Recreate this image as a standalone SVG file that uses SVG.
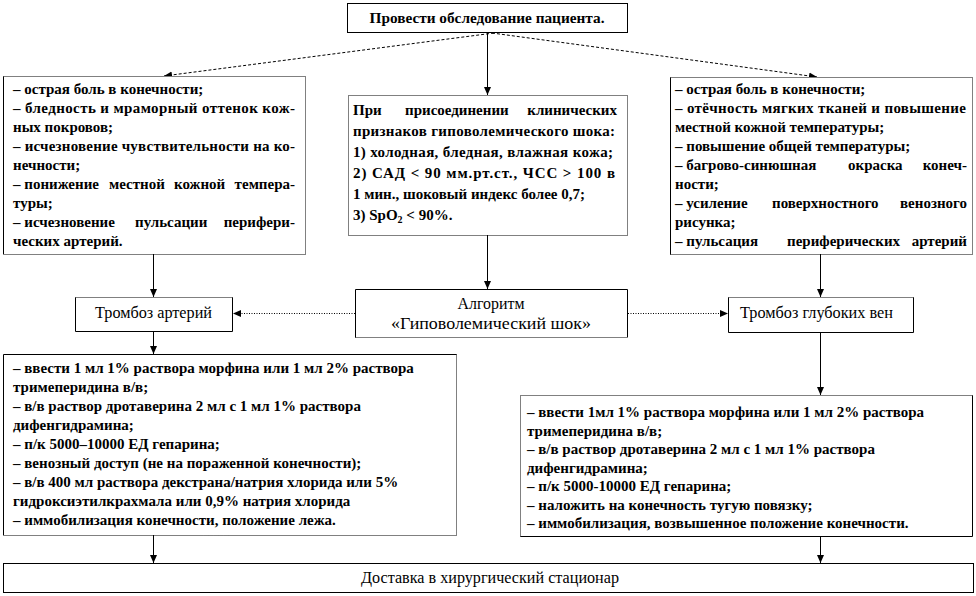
<svg xmlns="http://www.w3.org/2000/svg" width="976" height="596" viewBox="0 0 976 596">
<style>
.t{font-family:"Liberation Serif","Times New Roman",serif;font-size:15px;font-weight:bold;fill:#000}
.r{font-family:"Liberation Serif","Times New Roman",serif;font-size:16px;font-weight:normal;fill:#000}
.bg{fill:#fff;stroke:none}
.s{fill:none;stroke:#000;stroke-width:1}
.d{fill:none;stroke:#000;stroke-width:1;stroke-dasharray:1 1}
.c{fill:none;stroke:#000;stroke-width:1}
.dash{stroke-dasharray:3 2}
.dots{stroke-dasharray:1 1.5}
</style>
<defs>
<marker id="ah" markerUnits="userSpaceOnUse" markerWidth="9" markerHeight="8" refX="8" refY="4" orient="auto">
<path d="M0,0.5 L8,4 L0,7.5 z" fill="#000"/>
</marker>
</defs>
<rect width="976" height="596" fill="#fff"/>

<g id="connectors">
<line class="c dash" x1="494" y1="33" x2="164" y2="76" marker-end="url(#ah)"/>
<line class="c dash" x1="492" y1="33" x2="817" y2="77" marker-end="url(#ah)"/>
<line class="c" x1="487.5" y1="32" x2="487.5" y2="95" marker-end="url(#ah)"/>
<line class="c" x1="153.5" y1="254" x2="153.5" y2="297" marker-end="url(#ah)"/>
<line class="c" x1="487.5" y1="235" x2="487.5" y2="289" marker-end="url(#ah)"/>
<line class="c" x1="820.5" y1="254" x2="820.5" y2="297" marker-end="url(#ah)"/>
<line class="c dots" x1="355" y1="313.5" x2="233" y2="313.5" marker-end="url(#ah)"/>
<line class="c dots" x1="628" y1="313.5" x2="728" y2="313.5" marker-end="url(#ah)"/>
<line class="c" x1="153.5" y1="331" x2="153.5" y2="354" marker-end="url(#ah)"/>
<line class="c" x1="820.5" y1="332" x2="820.5" y2="395" marker-end="url(#ah)"/>
<line class="c" x1="153.5" y1="535" x2="153.5" y2="563" marker-end="url(#ah)"/>
<line class="c" x1="820.5" y1="536" x2="820.5" y2="563" marker-end="url(#ah)"/>
</g>

<g id="n-exam">
<rect class="bg" x="347" y="3" width="280" height="29"/>
<rect class="s" x="347.5" y="3.5" width="280" height="29"/>
<text class="t" x="487" y="23" text-anchor="middle" textLength="235" lengthAdjust="spacingAndGlyphs">Провести обследование пациента.</text>
</g>

<g id="n-art-signs">
<rect class="bg" x="3" y="76" width="302" height="178"/>
<path class="d" d="M3.5,76.5 H305.5 V254.5 H3.5"/>
<path class="s" d="M3.5,76.5 V254.5"/>
<text class="t" x="13" y="94">– острая боль в конечности;</text>
<text class="t" x="13" y="113" textLength="282" lengthAdjust="spacing">– бледность и мраморный оттенок кож-</text>
<text class="t" x="13" y="132">ных покровов;</text>
<text class="t" x="13" y="151" textLength="282" lengthAdjust="spacing">– исчезновение чувствительности на ко-</text>
<text class="t" x="13" y="170">нечности;</text>
<text class="t" x="13" y="189">– понижение</text>
<text class="t" x="109" y="189">местной</text>
<text class="t" x="174" y="189">кожной</text>
<text class="t" x="295" y="189" text-anchor="end">темпера-</text>
<text class="t" x="13" y="208">туры;</text>
<text class="t" x="13" y="227">– исчезновение</text>
<text class="t" x="135" y="227">пульсации</text>
<text class="t" x="295" y="227" text-anchor="end">перифери-</text>
<text class="t" x="13" y="246">ческих артерий.</text>
</g>

<g id="n-shock-signs">
<rect class="bg" x="348" y="95" width="279" height="140"/>
<rect class="d" x="348.5" y="95.5" width="279" height="140"/>
<text class="t" x="353" y="115">При</text>
<text class="t" x="405" y="115">присоединении</text>
<text class="t" x="617" y="115" text-anchor="end">клинических</text>
<text class="t" x="353" y="136" textLength="262" lengthAdjust="spacing">признаков гиповолемического шока:</text>
<text class="t" x="353" y="157" textLength="260" lengthAdjust="spacing">1) холодная, бледная, влажная кожа;</text>
<text class="t" x="353" y="178" textLength="262" lengthAdjust="spacing">2) САД &lt; 90 мм.рт.ст., ЧСС &gt; 100 в</text>
<text class="t" x="353" y="199">1 мин., шоковый индекс более 0,7;</text>
<text class="t" x="353" y="220">3) SpO<tspan font-size="10" dy="3">2</tspan><tspan dy="-3"> &lt; 90%.</tspan></text>
</g>

<g id="n-vein-signs">
<rect class="bg" x="670" y="77" width="302" height="177"/>
<path class="d" d="M670.5,77.5 H972.5 V254.5 H670.5"/>
<path class="s" d="M670.5,77.5 V254.5"/>
<text class="t" x="675" y="94">– острая боль в конечности;</text>
<text class="t" x="675" y="113" textLength="291" lengthAdjust="spacing">– отёчность мягких тканей и повышение</text>
<text class="t" x="675" y="132">местной кожной температуры;</text>
<text class="t" x="675" y="151">– повышение общей температуры;</text>
<text class="t" x="675" y="170">– багрово-синюшная</text>
<text class="t" x="848" y="170">окраска</text>
<text class="t" x="967" y="170" text-anchor="end">конеч-</text>
<text class="t" x="675" y="189">ности;</text>
<text class="t" x="675" y="208">– усиление</text>
<text class="t" x="772" y="208">поверхностного</text>
<text class="t" x="967" y="208" text-anchor="end">венозного</text>
<text class="t" x="675" y="227">рисунка;</text>
<text class="t" x="675" y="246">– пульсация</text>
<text class="t" x="787" y="246">периферических</text>
<text class="t" x="967" y="246" text-anchor="end">артерий</text>
</g>

<g id="n-art-thromb">
<rect class="bg" x="75" y="297" width="157" height="34"/>
<path class="d" d="M75.5,297.5 H232.5"/>
<path class="s" d="M75.5,297.5 V331.5 H232.5 V297.5"/>
<text class="r" x="153.5" y="318" text-anchor="middle" textLength="117" lengthAdjust="spacingAndGlyphs">Тромбоз артерий</text>
</g>

<g id="n-algo">
<rect class="bg" x="355" y="289" width="273" height="48"/>
<path class="s" d="M355.5,337.5 V289.5 H627.5 V337.5"/>
<path class="d" d="M355.5,337.5 H627.5"/>
<text class="r" x="491" y="309" text-anchor="middle" textLength="67" lengthAdjust="spacingAndGlyphs">Алгоритм</text>
<text class="r" x="491" y="329" text-anchor="middle" textLength="200" lengthAdjust="spacingAndGlyphs">«Гиповолемический шок»</text>
</g>

<g id="n-vein-thromb">
<rect class="bg" x="728" y="297" width="185" height="35"/>
<path class="d" d="M728.5,297.5 H913.5"/>
<path class="s" d="M728.5,297.5 V332.5 H913.5 V297.5"/>
<text class="r" x="816.5" y="318" text-anchor="middle" textLength="153" lengthAdjust="spacingAndGlyphs">Тромбоз глубоких вен</text>
</g>

<g id="n-art-care">
<rect class="bg" x="3" y="354" width="453" height="181"/>
<path class="s" d="M3.5,535.5 V354.5 H456.5"/>
<path class="d" d="M456.5,354.5 V535.5 H3.5"/>
<text class="t" x="13" y="373">– ввести 1 мл 1% раствора морфина или 1 мл 2% раствора</text>
<text class="t" x="13" y="392">тримеперидина  в/в;</text>
<text class="t" x="13" y="411">– в/в раствор дротаверина 2 мл с 1 мл 1% раствора</text>
<text class="t" x="13" y="430">дифенгидрамина;</text>
<text class="t" x="13" y="449">– п/к 5000–10000 ЕД гепарина;</text>
<text class="t" x="13" y="468">– венозный доступ (не на пораженной конечности);</text>
<text class="t" x="13" y="487">– в/в 400 мл раствора декстрана/натрия хлорида или 5%</text>
<text class="t" x="13" y="506">гидроксиэтилкрахмала или 0,9% натрия хлорида</text>
<text class="t" x="13" y="525">– иммобилизация конечности, положение лежа.</text>
</g>

<g id="n-vein-care">
<rect class="bg" x="520" y="395" width="452" height="141"/>
<path class="d" d="M520.5,536.5 V395.5 H972.5"/>
<path class="s" d="M972.5,395.5 V536.5 H520.5"/>
<text class="t" x="527" y="417">– ввести 1мл 1% раствора морфина или 1 мл 2% раствора</text>
<text class="t" x="527" y="435.5">тримеперидина  в/в;</text>
<text class="t" x="527" y="454">– в/в раствор дротаверина 2 мл с 1 мл 1% раствора</text>
<text class="t" x="527" y="472.5">дифенгидрамина;</text>
<text class="t" x="527" y="491">– п/к 5000-10000 ЕД гепарина;</text>
<text class="t" x="527" y="509.5">– наложить на конечность тугую  повязку;</text>
<text class="t" x="527" y="528">– иммобилизация, возвышенное положение конечности.</text>
</g>

<g id="n-delivery">
<rect class="bg" x="3" y="563" width="970" height="29"/>
<rect class="s" x="3.5" y="563.5" width="970" height="29"/>
<text class="r" x="490" y="583" text-anchor="middle" textLength="258" lengthAdjust="spacingAndGlyphs">Доставка в хирургический стационар</text>
</g>
</svg>
